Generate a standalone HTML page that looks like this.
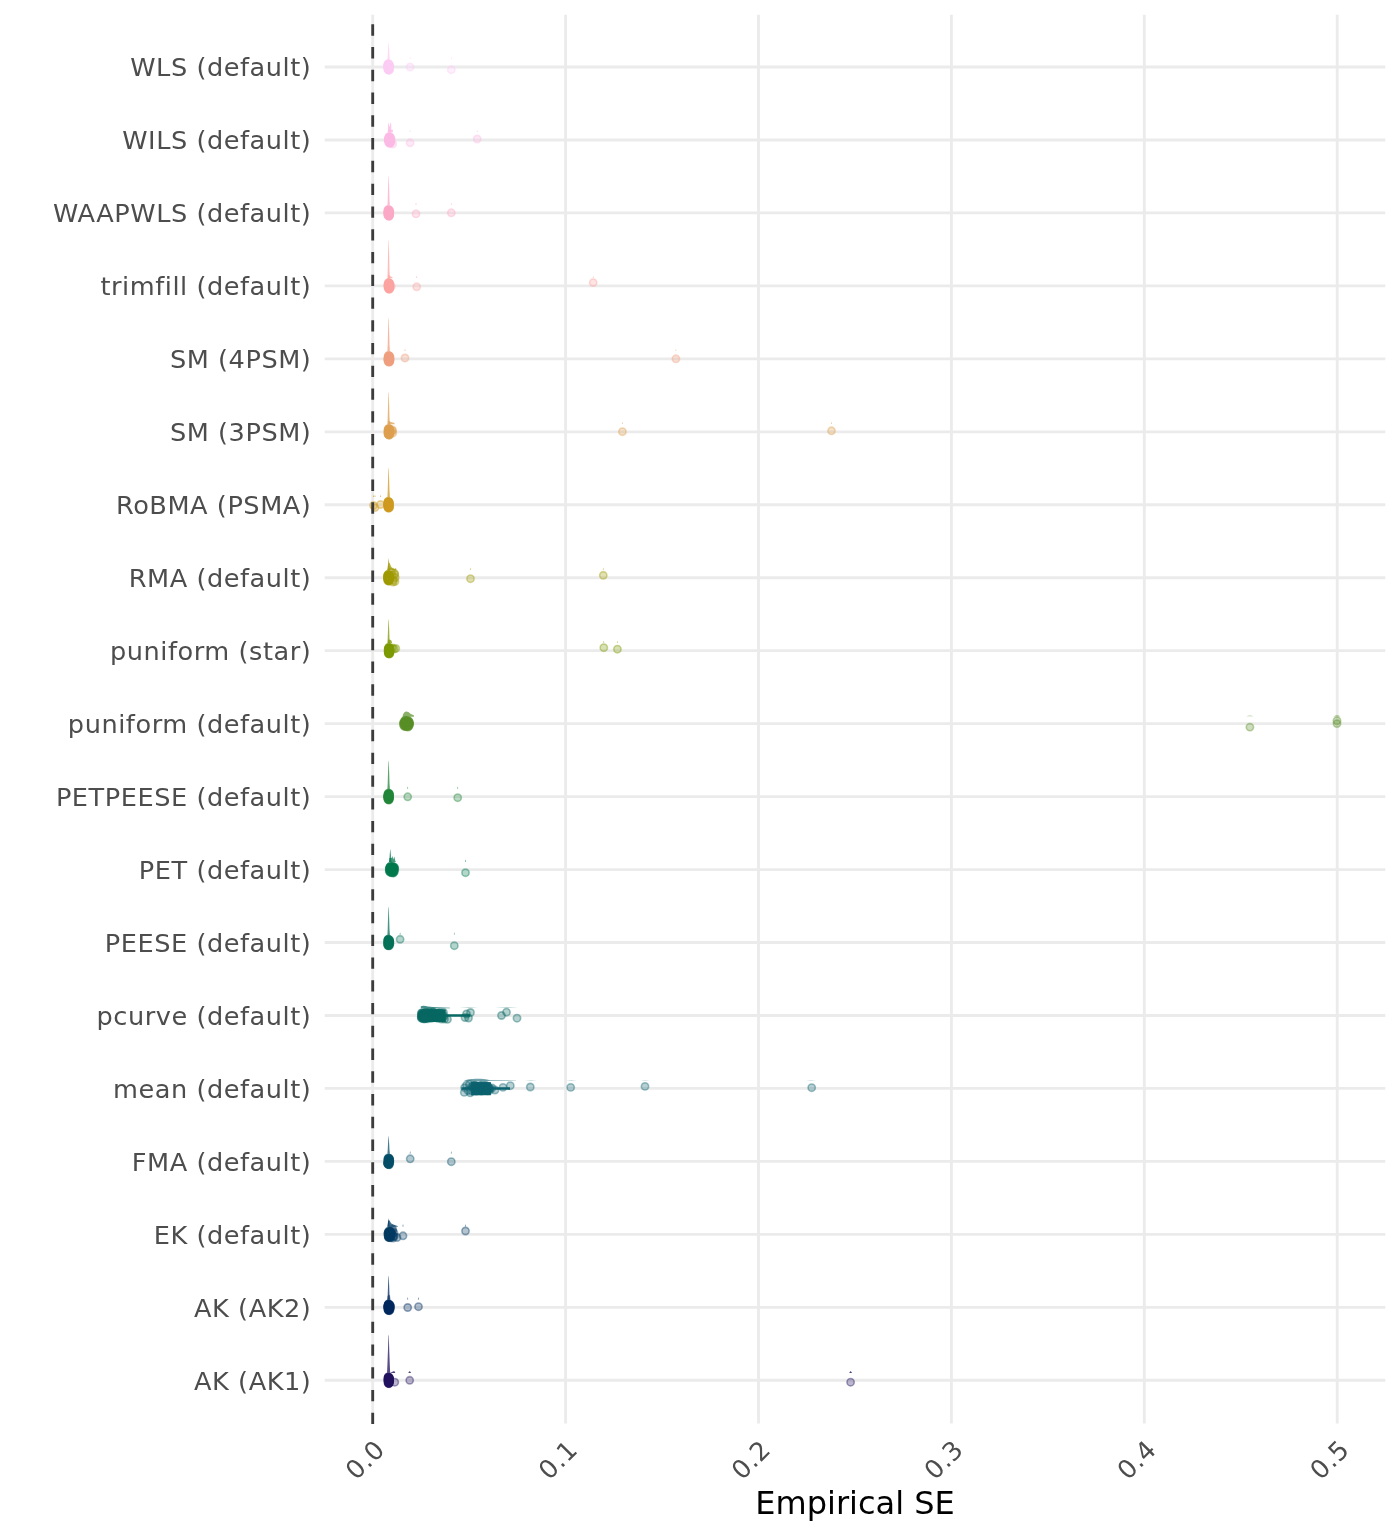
<!DOCTYPE html>
<html lang="en"><head><meta charset="utf-8"><title>Empirical SE</title>
<style>html,body{margin:0;padding:0;background:#fff}svg{display:block}text{font-family:"DejaVu Sans","Liberation Sans",sans-serif}</style></head><body>
<svg width="1400" height="1536" viewBox="0 0 1400 1536">
<rect width="1400" height="1536" fill="#fff"/>
<g stroke="#EBEBEB" stroke-width="2.85" fill="none">
<line x1="324.7" x2="1385.3" y1="67.00" y2="67.00"/>
<line x1="324.7" x2="1385.3" y1="139.96" y2="139.96"/>
<line x1="324.7" x2="1385.3" y1="212.92" y2="212.92"/>
<line x1="324.7" x2="1385.3" y1="285.88" y2="285.88"/>
<line x1="324.7" x2="1385.3" y1="358.84" y2="358.84"/>
<line x1="324.7" x2="1385.3" y1="431.80" y2="431.80"/>
<line x1="324.7" x2="1385.3" y1="504.76" y2="504.76"/>
<line x1="324.7" x2="1385.3" y1="577.72" y2="577.72"/>
<line x1="324.7" x2="1385.3" y1="650.68" y2="650.68"/>
<line x1="324.7" x2="1385.3" y1="723.64" y2="723.64"/>
<line x1="324.7" x2="1385.3" y1="796.60" y2="796.60"/>
<line x1="324.7" x2="1385.3" y1="869.56" y2="869.56"/>
<line x1="324.7" x2="1385.3" y1="942.52" y2="942.52"/>
<line x1="324.7" x2="1385.3" y1="1015.48" y2="1015.48"/>
<line x1="324.7" x2="1385.3" y1="1088.44" y2="1088.44"/>
<line x1="324.7" x2="1385.3" y1="1161.40" y2="1161.40"/>
<line x1="324.7" x2="1385.3" y1="1234.36" y2="1234.36"/>
<line x1="324.7" x2="1385.3" y1="1307.32" y2="1307.32"/>
<line x1="324.7" x2="1385.3" y1="1380.28" y2="1380.28"/>
<line x1="372.70" x2="372.70" y1="14.67" y2="1423.6"/>
<line x1="565.60" x2="565.60" y1="14.67" y2="1423.6"/>
<line x1="758.50" x2="758.50" y1="14.67" y2="1423.6"/>
<line x1="951.40" x2="951.40" y1="14.67" y2="1423.6"/>
<line x1="1144.30" x2="1144.30" y1="14.67" y2="1423.6"/>
<line x1="1337.20" x2="1337.20" y1="14.67" y2="1423.6"/>
</g>
<g id="row0">
<polygon points="387.4,59.4 387.7,55.9 388.0,49.8 388.4,43.5 388.6,42.0 388.8,43.5 389.2,49.8 389.5,55.9 389.9,59.4" fill="#FDCDF4" fill-opacity="0.75"/>
<g fill="#FDCDF4" fill-opacity="0.3" stroke="#FDCDF4" stroke-opacity="0.4" stroke-width="1.6">
<circle cx="387.9" cy="64.8" r="3.65"/>
<circle cx="388.5" cy="65.4" r="3.65"/>
<circle cx="389.2" cy="70.4" r="3.65"/>
<circle cx="387.9" cy="64.5" r="3.65"/>
<circle cx="388.1" cy="64.1" r="3.65"/>
<circle cx="389.5" cy="64.4" r="3.65"/>
<circle cx="387.6" cy="66.6" r="3.65"/>
<circle cx="389.4" cy="65.6" r="3.65"/>
<circle cx="388.6" cy="69.2" r="3.65"/>
<circle cx="388.1" cy="63.6" r="3.65"/>
<circle cx="387.6" cy="68.1" r="3.65"/>
<circle cx="388.2" cy="67.1" r="3.65"/>
<circle cx="388.9" cy="68.0" r="3.65"/>
<circle cx="387.9" cy="69.6" r="3.65"/>
<circle cx="388.8" cy="69.5" r="3.65"/>
<circle cx="389.0" cy="66.0" r="3.65"/>
<circle cx="389.1" cy="69.9" r="3.65"/>
<circle cx="387.9" cy="65.7" r="3.65"/>
<circle cx="389.8" cy="67.4" r="3.65"/>
<circle cx="389.8" cy="65.9" r="3.65"/>
<circle cx="388.5" cy="66.5" r="3.65"/>
<circle cx="387.9" cy="65.3" r="3.65"/>
<circle cx="389.5" cy="66.9" r="3.65"/>
<circle cx="389.4" cy="67.7" r="3.65"/>
<circle cx="389.7" cy="68.9" r="3.65"/>
<circle cx="388.4" cy="69.8" r="3.65"/>
<circle cx="389.7" cy="66.2" r="3.65"/>
<circle cx="387.9" cy="67.2" r="3.65"/>
<circle cx="388.9" cy="63.9" r="3.65"/>
<circle cx="387.8" cy="68.7" r="3.65"/>
<circle cx="388.3" cy="63.8" r="3.65"/>
<circle cx="389.0" cy="69.0" r="3.65"/>
<circle cx="388.4" cy="70.2" r="3.65"/>
<circle cx="388.6" cy="65.0" r="3.65"/>
<circle cx="389.0" cy="70.1" r="3.65"/>
<circle cx="387.7" cy="65.1" r="3.65"/>
<circle cx="388.3" cy="67.5" r="3.65"/>
<circle cx="388.8" cy="68.4" r="3.65"/>
<circle cx="388.7" cy="64.7" r="3.65"/>
<circle cx="388.8" cy="64.2" r="3.65"/>
<circle cx="388.4" cy="69.3" r="3.65"/>
<circle cx="388.9" cy="66.3" r="3.65"/>
<circle cx="388.0" cy="67.8" r="3.65"/>
<circle cx="387.7" cy="66.8" r="3.65"/>
<circle cx="388.4" cy="68.3" r="3.65"/>
<circle cx="387.8" cy="68.6" r="3.65"/>
<circle cx="410.1" cy="67.0" r="3.65"/>
<circle cx="451.3" cy="69.7" r="3.65"/>
</g>
<polygon points="409.6,59.1 410.1,56.7 410.7,59.1" fill="#FDCDF4" fill-opacity="0.6"/>
<polygon points="450.8,59.1 451.3,56.7 451.9,59.1" fill="#FDCDF4" fill-opacity="0.6"/>
</g>
<g id="row1">
<polygon points="387.9,132.35999999999999 388.0,124.35999999999999 388.3,122.3 389.4,127 390.7,122 391.2,124.35999999999999 391.4,132.35999999999999" fill="#FDBBE6" fill-opacity="0.8"/>
<polygon points="387.8,132.35999999999999 388,129.85999999999999 393,129.85999999999999 393,132.35999999999999" fill="#FDBBE6" fill-opacity="0.75"/>
<g fill="#FDBBE6" fill-opacity="0.3" stroke="#FDBBE6" stroke-opacity="0.4" stroke-width="1.6">
<circle cx="389.6" cy="143.1" r="3.65"/>
<circle cx="390.3" cy="143.4" r="3.65"/>
<circle cx="389.4" cy="143.2" r="3.65"/>
<circle cx="390.5" cy="142.2" r="3.65"/>
<circle cx="390.8" cy="141.8" r="3.65"/>
<circle cx="390.5" cy="141.4" r="3.65"/>
<circle cx="390.1" cy="139.1" r="3.65"/>
<circle cx="389.0" cy="140.5" r="3.65"/>
<circle cx="390.6" cy="137.3" r="3.65"/>
<circle cx="390.5" cy="140.2" r="3.65"/>
<circle cx="388.3" cy="141.1" r="3.65"/>
<circle cx="388.6" cy="141.2" r="3.65"/>
<circle cx="391.0" cy="140.3" r="3.65"/>
<circle cx="390.9" cy="139.0" r="3.65"/>
<circle cx="389.4" cy="142.9" r="3.65"/>
<circle cx="389.7" cy="138.7" r="3.65"/>
<circle cx="389.4" cy="142.8" r="3.65"/>
<circle cx="389.3" cy="139.3" r="3.65"/>
<circle cx="390.0" cy="142.5" r="3.65"/>
<circle cx="390.9" cy="138.8" r="3.65"/>
<circle cx="390.0" cy="139.9" r="3.65"/>
<circle cx="389.9" cy="140.9" r="3.65"/>
<circle cx="389.0" cy="138.2" r="3.65"/>
<circle cx="389.6" cy="137.8" r="3.65"/>
<circle cx="388.2" cy="139.6" r="3.65"/>
<circle cx="389.2" cy="137.2" r="3.65"/>
<circle cx="388.7" cy="138.4" r="3.65"/>
<circle cx="388.9" cy="139.4" r="3.65"/>
<circle cx="390.8" cy="141.5" r="3.65"/>
<circle cx="388.6" cy="140.6" r="3.65"/>
<circle cx="389.6" cy="136.9" r="3.65"/>
<circle cx="389.8" cy="136.7" r="3.65"/>
<circle cx="388.2" cy="140.0" r="3.65"/>
<circle cx="388.6" cy="142.6" r="3.65"/>
<circle cx="390.0" cy="141.7" r="3.65"/>
<circle cx="388.8" cy="137.9" r="3.65"/>
<circle cx="389.5" cy="142.0" r="3.65"/>
<circle cx="388.9" cy="136.6" r="3.65"/>
<circle cx="389.4" cy="137.5" r="3.65"/>
<circle cx="389.1" cy="137.0" r="3.65"/>
<circle cx="390.6" cy="142.3" r="3.65"/>
<circle cx="388.6" cy="139.7" r="3.65"/>
<circle cx="390.5" cy="137.6" r="3.65"/>
<circle cx="388.4" cy="138.1" r="3.65"/>
<circle cx="389.7" cy="140.8" r="3.65"/>
<circle cx="389.4" cy="138.5" r="3.65"/>
<circle cx="392.7" cy="144.0" r="3.65"/>
<circle cx="410.1" cy="142.8" r="3.65"/>
<circle cx="477.2" cy="139.0" r="3.65"/>
</g>
<polygon points="409.6,132.1 410.1,129.7 410.7,132.1" fill="#FDBBE6" fill-opacity="0.6"/>
<polygon points="476.6,132.1 477.2,129.7 477.8,132.1" fill="#FDBBE6" fill-opacity="0.6"/>
</g>
<g id="row2">
<polygon points="387.4,205.3 387.7,199.4 388.0,188.9 388.4,177.0 388.6,175.5 388.8,177.0 389.2,188.9 389.5,199.4 389.9,205.3" fill="#FDA9C8" fill-opacity="0.75"/>
<g fill="#FDA9C8" fill-opacity="0.3" stroke="#FDA9C8" stroke-opacity="0.4" stroke-width="1.6">
<circle cx="388.1" cy="210.9" r="3.65"/>
<circle cx="388.7" cy="210.0" r="3.65"/>
<circle cx="389.7" cy="211.9" r="3.65"/>
<circle cx="388.2" cy="213.4" r="3.65"/>
<circle cx="389.6" cy="214.5" r="3.65"/>
<circle cx="388.4" cy="211.5" r="3.65"/>
<circle cx="389.1" cy="216.2" r="3.65"/>
<circle cx="389.0" cy="210.4" r="3.65"/>
<circle cx="388.1" cy="209.8" r="3.65"/>
<circle cx="388.5" cy="210.7" r="3.65"/>
<circle cx="388.8" cy="209.7" r="3.65"/>
<circle cx="389.6" cy="214.2" r="3.65"/>
<circle cx="388.2" cy="215.3" r="3.65"/>
<circle cx="389.2" cy="216.3" r="3.65"/>
<circle cx="388.9" cy="216.0" r="3.65"/>
<circle cx="389.7" cy="214.8" r="3.65"/>
<circle cx="388.9" cy="215.4" r="3.65"/>
<circle cx="389.5" cy="212.1" r="3.65"/>
<circle cx="388.4" cy="213.0" r="3.65"/>
<circle cx="387.9" cy="215.6" r="3.65"/>
<circle cx="389.8" cy="211.8" r="3.65"/>
<circle cx="388.7" cy="212.8" r="3.65"/>
<circle cx="389.4" cy="212.4" r="3.65"/>
<circle cx="389.1" cy="213.8" r="3.65"/>
<circle cx="387.6" cy="212.5" r="3.65"/>
<circle cx="388.4" cy="214.7" r="3.65"/>
<circle cx="388.1" cy="211.6" r="3.65"/>
<circle cx="389.4" cy="212.2" r="3.65"/>
<circle cx="389.2" cy="215.7" r="3.65"/>
<circle cx="388.1" cy="209.5" r="3.65"/>
<circle cx="389.4" cy="210.1" r="3.65"/>
<circle cx="389.7" cy="214.4" r="3.65"/>
<circle cx="387.7" cy="211.0" r="3.65"/>
<circle cx="388.1" cy="215.1" r="3.65"/>
<circle cx="388.2" cy="215.0" r="3.65"/>
<circle cx="389.7" cy="213.9" r="3.65"/>
<circle cx="389.8" cy="213.3" r="3.65"/>
<circle cx="389.5" cy="210.3" r="3.65"/>
<circle cx="388.1" cy="212.7" r="3.65"/>
<circle cx="388.2" cy="213.6" r="3.65"/>
<circle cx="388.8" cy="211.2" r="3.65"/>
<circle cx="387.6" cy="214.1" r="3.65"/>
<circle cx="389.3" cy="211.3" r="3.65"/>
<circle cx="387.7" cy="213.1" r="3.65"/>
<circle cx="388.3" cy="210.6" r="3.65"/>
<circle cx="388.7" cy="215.9" r="3.65"/>
<circle cx="416.0" cy="213.8" r="3.65"/>
<circle cx="451.3" cy="212.8" r="3.65"/>
</g>
<polygon points="415.4,205.0 416.0,202.6 416.6,205.0" fill="#FDA9C8" fill-opacity="0.6"/>
<polygon points="450.8,205.0 451.3,202.6 451.9,205.0" fill="#FDA9C8" fill-opacity="0.6"/>
</g>
<g id="row3">
<polygon points="387.4,278.3 387.7,270.6 388.0,257.2 388.4,241.5 388.6,240.0 388.8,241.5 389.2,257.2 389.5,270.6 389.9,278.3" fill="#FDA5A3" fill-opacity="0.75"/>
<polygon points="388,278.28 388.5,274.78 390.5,276.28 392.5,277.28 392.5,278.28" fill="#FDA5A3" fill-opacity="0.75"/>
<g fill="#FDA5A3" fill-opacity="0.3" stroke="#FDA5A3" stroke-opacity="0.4" stroke-width="1.6">
<circle cx="389.3" cy="288.8" r="3.65"/>
<circle cx="387.9" cy="287.0" r="3.65"/>
<circle cx="388.4" cy="282.5" r="3.65"/>
<circle cx="389.8" cy="283.2" r="3.65"/>
<circle cx="388.3" cy="285.2" r="3.65"/>
<circle cx="389.8" cy="288.1" r="3.65"/>
<circle cx="388.9" cy="285.0" r="3.65"/>
<circle cx="388.2" cy="288.5" r="3.65"/>
<circle cx="388.0" cy="284.0" r="3.65"/>
<circle cx="389.1" cy="286.1" r="3.65"/>
<circle cx="388.2" cy="286.9" r="3.65"/>
<circle cx="388.5" cy="287.2" r="3.65"/>
<circle cx="389.0" cy="287.6" r="3.65"/>
<circle cx="388.7" cy="282.6" r="3.65"/>
<circle cx="389.1" cy="286.6" r="3.65"/>
<circle cx="389.5" cy="287.9" r="3.65"/>
<circle cx="389.1" cy="284.6" r="3.65"/>
<circle cx="387.9" cy="285.4" r="3.65"/>
<circle cx="388.9" cy="288.2" r="3.65"/>
<circle cx="389.5" cy="286.0" r="3.65"/>
<circle cx="388.8" cy="284.1" r="3.65"/>
<circle cx="388.9" cy="289.0" r="3.65"/>
<circle cx="388.9" cy="285.8" r="3.65"/>
<circle cx="388.5" cy="287.3" r="3.65"/>
<circle cx="388.7" cy="282.9" r="3.65"/>
<circle cx="389.0" cy="288.7" r="3.65"/>
<circle cx="389.2" cy="283.8" r="3.65"/>
<circle cx="388.3" cy="285.7" r="3.65"/>
<circle cx="389.7" cy="283.4" r="3.65"/>
<circle cx="389.1" cy="282.8" r="3.65"/>
<circle cx="389.0" cy="284.4" r="3.65"/>
<circle cx="389.6" cy="289.3" r="3.65"/>
<circle cx="388.9" cy="283.1" r="3.65"/>
<circle cx="387.9" cy="285.5" r="3.65"/>
<circle cx="389.2" cy="288.4" r="3.65"/>
<circle cx="390.1" cy="286.3" r="3.65"/>
<circle cx="388.7" cy="283.5" r="3.65"/>
<circle cx="389.0" cy="286.4" r="3.65"/>
<circle cx="388.9" cy="283.7" r="3.65"/>
<circle cx="389.6" cy="286.7" r="3.65"/>
<circle cx="389.8" cy="284.3" r="3.65"/>
<circle cx="390.0" cy="287.8" r="3.65"/>
<circle cx="388.0" cy="284.9" r="3.65"/>
<circle cx="389.5" cy="287.5" r="3.65"/>
<circle cx="389.0" cy="289.1" r="3.65"/>
<circle cx="390.1" cy="284.7" r="3.65"/>
<circle cx="391.2" cy="286.5" r="3.65"/>
<circle cx="416.7" cy="286.8" r="3.65"/>
<circle cx="593.2" cy="282.6" r="3.65"/>
</g>
<polygon points="416.1,278.0 416.7,275.6 417.2,278.0" fill="#FDA5A3" fill-opacity="0.6"/>
<polygon points="592.7,278.0 593.2,275.6 593.8,278.0" fill="#FDA5A3" fill-opacity="0.6"/>
</g>
<g id="row4">
<polygon points="387.4,351.2 387.7,344.5 388.0,332.7 388.4,319.0 388.6,317.5 388.8,319.0 389.2,332.7 389.5,344.5 389.9,351.2" fill="#F0A080" fill-opacity="0.75"/>
<g fill="#F0A080" fill-opacity="0.3" stroke="#F0A080" stroke-opacity="0.4" stroke-width="1.6">
<circle cx="389.8" cy="356.2" r="3.65"/>
<circle cx="388.2" cy="358.9" r="3.65"/>
<circle cx="389.6" cy="360.6" r="3.65"/>
<circle cx="388.2" cy="356.8" r="3.65"/>
<circle cx="389.7" cy="360.9" r="3.65"/>
<circle cx="388.4" cy="355.7" r="3.65"/>
<circle cx="388.9" cy="356.0" r="3.65"/>
<circle cx="389.4" cy="359.8" r="3.65"/>
<circle cx="389.4" cy="359.4" r="3.65"/>
<circle cx="389.7" cy="358.6" r="3.65"/>
<circle cx="388.9" cy="361.3" r="3.65"/>
<circle cx="387.9" cy="358.5" r="3.65"/>
<circle cx="388.2" cy="361.0" r="3.65"/>
<circle cx="390.0" cy="360.7" r="3.65"/>
<circle cx="388.7" cy="361.9" r="3.65"/>
<circle cx="389.1" cy="361.6" r="3.65"/>
<circle cx="388.5" cy="357.6" r="3.65"/>
<circle cx="388.5" cy="362.1" r="3.65"/>
<circle cx="389.6" cy="362.2" r="3.65"/>
<circle cx="388.5" cy="358.8" r="3.65"/>
<circle cx="388.7" cy="356.3" r="3.65"/>
<circle cx="388.5" cy="358.0" r="3.65"/>
<circle cx="389.6" cy="361.8" r="3.65"/>
<circle cx="389.9" cy="359.1" r="3.65"/>
<circle cx="388.1" cy="359.5" r="3.65"/>
<circle cx="389.3" cy="355.6" r="3.65"/>
<circle cx="387.9" cy="360.0" r="3.65"/>
<circle cx="388.4" cy="355.4" r="3.65"/>
<circle cx="390.1" cy="359.2" r="3.65"/>
<circle cx="388.1" cy="360.1" r="3.65"/>
<circle cx="389.0" cy="356.6" r="3.65"/>
<circle cx="388.2" cy="361.5" r="3.65"/>
<circle cx="389.9" cy="360.3" r="3.65"/>
<circle cx="388.0" cy="359.7" r="3.65"/>
<circle cx="388.2" cy="358.2" r="3.65"/>
<circle cx="388.2" cy="357.4" r="3.65"/>
<circle cx="389.3" cy="360.4" r="3.65"/>
<circle cx="389.6" cy="361.2" r="3.65"/>
<circle cx="388.8" cy="358.3" r="3.65"/>
<circle cx="389.9" cy="357.3" r="3.65"/>
<circle cx="389.6" cy="357.1" r="3.65"/>
<circle cx="389.1" cy="355.9" r="3.65"/>
<circle cx="389.6" cy="357.9" r="3.65"/>
<circle cx="388.0" cy="357.0" r="3.65"/>
<circle cx="389.2" cy="356.5" r="3.65"/>
<circle cx="390.1" cy="357.7" r="3.65"/>
<circle cx="405.0" cy="358.0" r="3.65"/>
<circle cx="675.9" cy="358.8" r="3.65"/>
</g>
<polygon points="404.4,350.9 405.0,348.5 405.6,350.9" fill="#F0A080" fill-opacity="0.6"/>
<polygon points="675.4,350.9 675.9,348.5 676.4,350.9" fill="#F0A080" fill-opacity="0.6"/>
</g>
<g id="row5">
<polygon points="387.4,424.2 387.7,417.8 388.0,406.5 388.4,393.5 388.6,392.0 388.8,393.5 389.2,406.5 389.5,417.8 389.9,424.2" fill="#DFA050" fill-opacity="0.75"/>
<polygon points="388,424.19999999999993 388.5,420.69999999999993 391,421.99999999999994 394.5,422.99999999999994 394.5,424.19999999999993" fill="#DFA050" fill-opacity="0.75"/>
<g fill="#DFA050" fill-opacity="0.3" stroke="#DFA050" stroke-opacity="0.4" stroke-width="1.6">
<circle cx="388.3" cy="431.3" r="3.65"/>
<circle cx="389.8" cy="429.2" r="3.65"/>
<circle cx="388.7" cy="432.6" r="3.65"/>
<circle cx="388.4" cy="429.3" r="3.65"/>
<circle cx="389.0" cy="435.0" r="3.65"/>
<circle cx="390.0" cy="433.7" r="3.65"/>
<circle cx="389.4" cy="430.5" r="3.65"/>
<circle cx="388.5" cy="430.8" r="3.65"/>
<circle cx="390.1" cy="430.7" r="3.65"/>
<circle cx="388.6" cy="431.0" r="3.65"/>
<circle cx="388.0" cy="429.9" r="3.65"/>
<circle cx="390.0" cy="431.9" r="3.65"/>
<circle cx="388.4" cy="433.4" r="3.65"/>
<circle cx="389.1" cy="434.9" r="3.65"/>
<circle cx="389.8" cy="430.4" r="3.65"/>
<circle cx="389.7" cy="430.2" r="3.65"/>
<circle cx="388.9" cy="428.9" r="3.65"/>
<circle cx="388.2" cy="430.1" r="3.65"/>
<circle cx="388.8" cy="429.0" r="3.65"/>
<circle cx="388.7" cy="434.6" r="3.65"/>
<circle cx="388.4" cy="428.4" r="3.65"/>
<circle cx="388.3" cy="434.0" r="3.65"/>
<circle cx="388.2" cy="429.5" r="3.65"/>
<circle cx="389.6" cy="435.2" r="3.65"/>
<circle cx="387.9" cy="432.9" r="3.65"/>
<circle cx="387.9" cy="432.8" r="3.65"/>
<circle cx="390.0" cy="431.7" r="3.65"/>
<circle cx="390.1" cy="432.2" r="3.65"/>
<circle cx="388.2" cy="434.3" r="3.65"/>
<circle cx="388.5" cy="431.6" r="3.65"/>
<circle cx="390.0" cy="432.3" r="3.65"/>
<circle cx="389.3" cy="428.6" r="3.65"/>
<circle cx="389.0" cy="433.5" r="3.65"/>
<circle cx="389.4" cy="429.6" r="3.65"/>
<circle cx="388.6" cy="433.8" r="3.65"/>
<circle cx="388.6" cy="432.5" r="3.65"/>
<circle cx="389.0" cy="433.2" r="3.65"/>
<circle cx="389.2" cy="428.7" r="3.65"/>
<circle cx="388.2" cy="434.4" r="3.65"/>
<circle cx="388.9" cy="431.1" r="3.65"/>
<circle cx="388.5" cy="429.8" r="3.65"/>
<circle cx="388.9" cy="433.1" r="3.65"/>
<circle cx="387.9" cy="431.4" r="3.65"/>
<circle cx="389.1" cy="432.0" r="3.65"/>
<circle cx="388.8" cy="434.1" r="3.65"/>
<circle cx="388.6" cy="434.7" r="3.65"/>
<circle cx="392.3" cy="431.0" r="3.65"/>
<circle cx="392.8" cy="433.0" r="3.65"/>
<circle cx="392.5" cy="430.0" r="3.65"/>
<circle cx="622.4" cy="431.7" r="3.65"/>
<circle cx="831.5" cy="430.8" r="3.65"/>
</g>
<polygon points="621.9,423.9 622.4,421.5 622.9,423.9" fill="#DFA050" fill-opacity="0.6"/>
<polygon points="831.0,423.9 831.5,421.5 832.0,423.9" fill="#DFA050" fill-opacity="0.6"/>
</g>
<g id="row6">
<polygon points="387.4,497.2 387.7,491.2 388.0,480.8 388.4,469.0 388.6,467.5 388.8,469.0 389.2,480.8 389.5,491.2 389.9,497.2" fill="#CF9A20" fill-opacity="0.75"/>
<g fill="#CF9A20" fill-opacity="0.3" stroke="#CF9A20" stroke-opacity="0.4" stroke-width="1.6">
<circle cx="387.9" cy="504.1" r="3.65"/>
<circle cx="388.3" cy="501.8" r="3.65"/>
<circle cx="388.3" cy="507.9" r="3.65"/>
<circle cx="388.9" cy="501.7" r="3.65"/>
<circle cx="388.5" cy="507.3" r="3.65"/>
<circle cx="388.1" cy="504.2" r="3.65"/>
<circle cx="389.3" cy="506.5" r="3.65"/>
<circle cx="389.5" cy="506.6" r="3.65"/>
<circle cx="389.0" cy="502.3" r="3.65"/>
<circle cx="387.7" cy="502.9" r="3.65"/>
<circle cx="387.9" cy="507.4" r="3.65"/>
<circle cx="387.7" cy="505.0" r="3.65"/>
<circle cx="388.7" cy="504.7" r="3.65"/>
<circle cx="388.1" cy="501.5" r="3.65"/>
<circle cx="389.6" cy="505.1" r="3.65"/>
<circle cx="387.6" cy="504.4" r="3.65"/>
<circle cx="388.4" cy="503.0" r="3.65"/>
<circle cx="389.1" cy="508.2" r="3.65"/>
<circle cx="388.3" cy="508.0" r="3.65"/>
<circle cx="389.3" cy="507.6" r="3.65"/>
<circle cx="389.0" cy="505.4" r="3.65"/>
<circle cx="389.4" cy="506.8" r="3.65"/>
<circle cx="388.2" cy="504.5" r="3.65"/>
<circle cx="388.2" cy="505.7" r="3.65"/>
<circle cx="388.9" cy="505.3" r="3.65"/>
<circle cx="388.5" cy="507.7" r="3.65"/>
<circle cx="388.1" cy="501.4" r="3.65"/>
<circle cx="388.6" cy="503.2" r="3.65"/>
<circle cx="389.6" cy="503.6" r="3.65"/>
<circle cx="387.6" cy="505.9" r="3.65"/>
<circle cx="388.9" cy="505.6" r="3.65"/>
<circle cx="388.5" cy="506.0" r="3.65"/>
<circle cx="389.1" cy="503.5" r="3.65"/>
<circle cx="387.8" cy="507.1" r="3.65"/>
<circle cx="388.1" cy="502.4" r="3.65"/>
<circle cx="387.8" cy="503.9" r="3.65"/>
<circle cx="388.5" cy="506.2" r="3.65"/>
<circle cx="389.0" cy="502.6" r="3.65"/>
<circle cx="387.6" cy="504.8" r="3.65"/>
<circle cx="388.9" cy="503.8" r="3.65"/>
<circle cx="387.9" cy="506.3" r="3.65"/>
<circle cx="389.4" cy="502.7" r="3.65"/>
<circle cx="389.3" cy="502.1" r="3.65"/>
<circle cx="389.3" cy="507.0" r="3.65"/>
<circle cx="388.0" cy="502.0" r="3.65"/>
<circle cx="388.9" cy="503.3" r="3.65"/>
<circle cx="373.5" cy="505.5" r="3.65"/>
<circle cx="375.0" cy="507.6" r="3.65"/>
<circle cx="380.5" cy="504.5" r="3.65"/>
</g>
<polygon points="372.9,496.9 373.5,494.5 374.1,496.9" fill="#CF9A20" fill-opacity="0.6"/>
<polygon points="374.4,496.9 375.0,494.5 375.6,496.9" fill="#CF9A20" fill-opacity="0.6"/>
<polygon points="379.9,496.9 380.5,494.5 381.1,496.9" fill="#CF9A20" fill-opacity="0.6"/>
</g>
<g id="row7">
<polygon points="387.4,570.1 387.7,567.7 388.0,563.5 388.4,559.5 388.6,558.0 388.8,559.5 389.2,563.5 389.5,567.7 389.9,570.1" fill="#A09A05" fill-opacity="0.75"/>
<polygon points="387.4,570.12 388.2,565.12 389.6,562.62 390.6,565.62 392,567.92 394.6,568.92 396,567.92 396.4,570.12" fill="#A09A05" fill-opacity="0.75"/>
<g fill="#A09A05" fill-opacity="0.3" stroke="#A09A05" stroke-opacity="0.4" stroke-width="1.6">
<circle cx="388.4" cy="578.2" r="3.65"/>
<circle cx="387.9" cy="574.8" r="3.65"/>
<circle cx="389.2" cy="577.2" r="3.65"/>
<circle cx="388.5" cy="574.5" r="3.65"/>
<circle cx="387.5" cy="578.9" r="3.65"/>
<circle cx="388.4" cy="580.2" r="3.65"/>
<circle cx="388.4" cy="579.5" r="3.65"/>
<circle cx="389.5" cy="578.7" r="3.65"/>
<circle cx="388.9" cy="580.7" r="3.65"/>
<circle cx="388.9" cy="575.7" r="3.65"/>
<circle cx="389.3" cy="574.9" r="3.65"/>
<circle cx="388.9" cy="580.1" r="3.65"/>
<circle cx="388.7" cy="577.6" r="3.65"/>
<circle cx="387.6" cy="577.9" r="3.65"/>
<circle cx="387.9" cy="579.3" r="3.65"/>
<circle cx="389.8" cy="578.1" r="3.65"/>
<circle cx="387.4" cy="577.3" r="3.65"/>
<circle cx="387.9" cy="577.8" r="3.65"/>
<circle cx="389.3" cy="576.7" r="3.65"/>
<circle cx="388.8" cy="581.0" r="3.65"/>
<circle cx="388.1" cy="579.8" r="3.65"/>
<circle cx="388.5" cy="576.3" r="3.65"/>
<circle cx="388.0" cy="574.3" r="3.65"/>
<circle cx="389.3" cy="575.2" r="3.65"/>
<circle cx="387.5" cy="577.0" r="3.65"/>
<circle cx="389.1" cy="579.9" r="3.65"/>
<circle cx="389.2" cy="581.1" r="3.65"/>
<circle cx="388.2" cy="575.4" r="3.65"/>
<circle cx="387.5" cy="575.8" r="3.65"/>
<circle cx="389.1" cy="574.6" r="3.65"/>
<circle cx="388.4" cy="576.9" r="3.65"/>
<circle cx="387.7" cy="580.4" r="3.65"/>
<circle cx="387.8" cy="576.0" r="3.65"/>
<circle cx="389.5" cy="575.1" r="3.65"/>
<circle cx="389.7" cy="576.6" r="3.65"/>
<circle cx="389.6" cy="576.1" r="3.65"/>
<circle cx="388.0" cy="580.8" r="3.65"/>
<circle cx="387.7" cy="575.5" r="3.65"/>
<circle cx="388.9" cy="578.4" r="3.65"/>
<circle cx="388.6" cy="580.5" r="3.65"/>
<circle cx="389.5" cy="577.5" r="3.65"/>
<circle cx="387.8" cy="578.6" r="3.65"/>
<circle cx="388.2" cy="576.4" r="3.65"/>
<circle cx="389.7" cy="579.6" r="3.65"/>
<circle cx="389.5" cy="579.0" r="3.65"/>
<circle cx="388.7" cy="579.2" r="3.65"/>
<circle cx="392.0" cy="575.0" r="3.65"/>
<circle cx="393.5" cy="580.0" r="3.65"/>
<circle cx="394.5" cy="573.5" r="3.65"/>
<circle cx="395.2" cy="577.5" r="3.65"/>
<circle cx="393.0" cy="582.0" r="3.65"/>
<circle cx="391.5" cy="572.0" r="3.65"/>
<circle cx="395.0" cy="581.5" r="3.65"/>
<circle cx="394.8" cy="574.5" r="3.65"/>
<circle cx="470.5" cy="578.7" r="3.65"/>
<circle cx="603.3" cy="575.3" r="3.65"/>
</g>
<polygon points="469.9,569.8 470.5,567.4 471.1,569.8" fill="#A09A05" fill-opacity="0.6"/>
<polygon points="602.8,569.8 603.3,567.4 603.8,569.8" fill="#A09A05" fill-opacity="0.6"/>
</g>
<g id="row8">
<polygon points="387.4,643.1 387.7,638.3 388.0,629.8 388.4,620.5 388.6,619.0 388.8,620.5 389.2,629.8 389.5,638.3 389.9,643.1" fill="#7E9A05" fill-opacity="0.75"/>
<polygon points="388,643.0799999999999 388.5,639.5799999999999 391,640.0799999999999 392,642.0799999999999 392,643.0799999999999" fill="#7E9A05" fill-opacity="0.75"/>
<g fill="#7E9A05" fill-opacity="0.3" stroke="#7E9A05" stroke-opacity="0.4" stroke-width="1.6">
<circle cx="388.3" cy="650.8" r="3.65"/>
<circle cx="389.9" cy="649.4" r="3.65"/>
<circle cx="389.6" cy="648.6" r="3.65"/>
<circle cx="389.2" cy="649.7" r="3.65"/>
<circle cx="390.0" cy="650.6" r="3.65"/>
<circle cx="389.0" cy="650.0" r="3.65"/>
<circle cx="389.1" cy="649.1" r="3.65"/>
<circle cx="388.8" cy="647.9" r="3.65"/>
<circle cx="388.8" cy="653.5" r="3.65"/>
<circle cx="389.0" cy="647.7" r="3.65"/>
<circle cx="390.1" cy="651.1" r="3.65"/>
<circle cx="388.4" cy="653.3" r="3.65"/>
<circle cx="389.8" cy="648.0" r="3.65"/>
<circle cx="388.3" cy="651.5" r="3.65"/>
<circle cx="388.4" cy="652.0" r="3.65"/>
<circle cx="388.2" cy="648.8" r="3.65"/>
<circle cx="389.1" cy="652.9" r="3.65"/>
<circle cx="389.9" cy="651.4" r="3.65"/>
<circle cx="389.2" cy="652.1" r="3.65"/>
<circle cx="389.9" cy="648.9" r="3.65"/>
<circle cx="389.7" cy="650.9" r="3.65"/>
<circle cx="388.5" cy="648.3" r="3.65"/>
<circle cx="389.0" cy="648.5" r="3.65"/>
<circle cx="389.3" cy="647.6" r="3.65"/>
<circle cx="388.3" cy="649.2" r="3.65"/>
<circle cx="389.5" cy="653.2" r="3.65"/>
<circle cx="388.4" cy="650.5" r="3.65"/>
<circle cx="388.7" cy="653.8" r="3.65"/>
<circle cx="389.8" cy="648.2" r="3.65"/>
<circle cx="388.8" cy="653.9" r="3.65"/>
<circle cx="389.3" cy="652.7" r="3.65"/>
<circle cx="389.7" cy="653.6" r="3.65"/>
<circle cx="389.8" cy="651.2" r="3.65"/>
<circle cx="389.0" cy="647.4" r="3.65"/>
<circle cx="390.0" cy="652.6" r="3.65"/>
<circle cx="389.0" cy="653.0" r="3.65"/>
<circle cx="388.3" cy="652.3" r="3.65"/>
<circle cx="388.1" cy="651.8" r="3.65"/>
<circle cx="390.1" cy="649.5" r="3.65"/>
<circle cx="388.1" cy="650.3" r="3.65"/>
<circle cx="389.0" cy="649.8" r="3.65"/>
<circle cx="389.6" cy="651.7" r="3.65"/>
<circle cx="389.7" cy="650.2" r="3.65"/>
<circle cx="389.5" cy="652.4" r="3.65"/>
<circle cx="389.6" cy="654.1" r="3.65"/>
<circle cx="388.6" cy="647.3" r="3.65"/>
<circle cx="392.5" cy="648.0" r="3.65"/>
<circle cx="394.0" cy="649.0" r="3.65"/>
<circle cx="395.8" cy="648.5" r="3.65"/>
<circle cx="603.8" cy="647.7" r="3.65"/>
<circle cx="617.4" cy="649.2" r="3.65"/>
</g>
<polygon points="603.2,642.8 603.8,640.4 604.3,642.8" fill="#7E9A05" fill-opacity="0.6"/>
<polygon points="616.9,642.8 617.4,640.4 617.9,642.8" fill="#7E9A05" fill-opacity="0.6"/>
</g>
<g id="row9">
<path d="M402.5,716.64 C403.5,710.54 407.5,710.54 410,713.4399999999999 L414,715.4399999999999 L414,716.64 Z" fill="#5A9028" fill-opacity="0.7"/>
<g fill="#5A9028" fill-opacity="0.3" stroke="#5A9028" stroke-opacity="0.4" stroke-width="1.6">
<circle cx="409.0" cy="723.4" r="3.65"/>
<circle cx="403.8" cy="723.0" r="3.65"/>
<circle cx="406.0" cy="726.7" r="3.65"/>
<circle cx="403.8" cy="723.1" r="3.65"/>
<circle cx="406.5" cy="721.3" r="3.65"/>
<circle cx="407.5" cy="724.9" r="3.65"/>
<circle cx="404.3" cy="722.8" r="3.65"/>
<circle cx="408.7" cy="726.1" r="3.65"/>
<circle cx="404.5" cy="722.2" r="3.65"/>
<circle cx="409.3" cy="722.7" r="3.65"/>
<circle cx="409.2" cy="725.5" r="3.65"/>
<circle cx="407.6" cy="720.8" r="3.65"/>
<circle cx="404.9" cy="720.2" r="3.65"/>
<circle cx="405.0" cy="721.6" r="3.65"/>
<circle cx="407.6" cy="726.9" r="3.65"/>
<circle cx="408.0" cy="724.6" r="3.65"/>
<circle cx="407.4" cy="721.9" r="3.65"/>
<circle cx="403.8" cy="721.8" r="3.65"/>
<circle cx="408.9" cy="723.6" r="3.65"/>
<circle cx="408.7" cy="721.1" r="3.65"/>
<circle cx="404.9" cy="721.4" r="3.65"/>
<circle cx="405.8" cy="726.0" r="3.65"/>
<circle cx="405.5" cy="720.5" r="3.65"/>
<circle cx="405.9" cy="722.4" r="3.65"/>
<circle cx="405.8" cy="725.1" r="3.65"/>
<circle cx="408.1" cy="727.0" r="3.65"/>
<circle cx="405.8" cy="725.2" r="3.65"/>
<circle cx="405.4" cy="725.8" r="3.65"/>
<circle cx="409.6" cy="723.9" r="3.65"/>
<circle cx="403.9" cy="725.7" r="3.65"/>
<circle cx="409.6" cy="724.0" r="3.65"/>
<circle cx="409.5" cy="722.5" r="3.65"/>
<circle cx="405.5" cy="724.2" r="3.65"/>
<circle cx="407.6" cy="720.4" r="3.65"/>
<circle cx="405.3" cy="726.6" r="3.65"/>
<circle cx="404.2" cy="726.3" r="3.65"/>
<circle cx="403.4" cy="723.3" r="3.65"/>
<circle cx="408.5" cy="726.4" r="3.65"/>
<circle cx="409.1" cy="724.5" r="3.65"/>
<circle cx="405.6" cy="725.4" r="3.65"/>
<circle cx="407.9" cy="723.7" r="3.65"/>
<circle cx="409.0" cy="722.1" r="3.65"/>
<circle cx="403.5" cy="724.8" r="3.65"/>
<circle cx="405.4" cy="720.7" r="3.65"/>
<circle cx="408.8" cy="721.0" r="3.65"/>
<circle cx="404.6" cy="724.3" r="3.65"/>
<circle cx="1249.9" cy="727.1" r="3.65"/>
<circle cx="1337.0" cy="720.7" r="3.65"/>
<circle cx="1337.0" cy="723.6" r="3.65"/>
</g>
<path d="M1246.3,716.2 Q1249.9,715.0 1253.5,716.2 Z" fill="#5A9028" fill-opacity="0.5"/>
<path d="M1333.4,716.2 Q1337.0,715.0 1340.6,716.2 Z" fill="#5A9028" fill-opacity="0.5"/>
<path d="M1333.4,716.2 Q1337.0,715.0 1340.6,716.2 Z" fill="#5A9028" fill-opacity="0.5"/>
</g>
<g id="row10">
<polygon points="387.4,789.0 387.7,783.3 388.0,773.3 388.4,762.0 388.6,760.5 388.8,762.0 389.2,773.3 389.5,783.3 389.9,789.0" fill="#23873A" fill-opacity="0.75"/>
<g fill="#23873A" fill-opacity="0.3" stroke="#23873A" stroke-opacity="0.4" stroke-width="1.6">
<circle cx="387.7" cy="794.7" r="3.65"/>
<circle cx="389.3" cy="794.0" r="3.65"/>
<circle cx="388.6" cy="794.1" r="3.65"/>
<circle cx="387.6" cy="797.7" r="3.65"/>
<circle cx="389.2" cy="795.8" r="3.65"/>
<circle cx="388.8" cy="795.2" r="3.65"/>
<circle cx="389.2" cy="793.5" r="3.65"/>
<circle cx="389.5" cy="798.5" r="3.65"/>
<circle cx="388.5" cy="798.6" r="3.65"/>
<circle cx="388.5" cy="798.3" r="3.65"/>
<circle cx="389.4" cy="797.3" r="3.65"/>
<circle cx="388.1" cy="796.4" r="3.65"/>
<circle cx="389.1" cy="800.0" r="3.65"/>
<circle cx="388.6" cy="798.0" r="3.65"/>
<circle cx="388.0" cy="796.1" r="3.65"/>
<circle cx="389.0" cy="799.1" r="3.65"/>
<circle cx="387.7" cy="796.5" r="3.65"/>
<circle cx="389.6" cy="797.1" r="3.65"/>
<circle cx="388.8" cy="798.8" r="3.65"/>
<circle cx="388.1" cy="793.2" r="3.65"/>
<circle cx="388.7" cy="796.8" r="3.65"/>
<circle cx="389.1" cy="793.4" r="3.65"/>
<circle cx="388.3" cy="795.3" r="3.65"/>
<circle cx="387.8" cy="797.9" r="3.65"/>
<circle cx="388.5" cy="793.7" r="3.65"/>
<circle cx="389.0" cy="798.2" r="3.65"/>
<circle cx="388.1" cy="797.6" r="3.65"/>
<circle cx="388.8" cy="799.4" r="3.65"/>
<circle cx="389.0" cy="799.7" r="3.65"/>
<circle cx="389.3" cy="794.3" r="3.65"/>
<circle cx="388.1" cy="794.4" r="3.65"/>
<circle cx="389.6" cy="797.0" r="3.65"/>
<circle cx="388.3" cy="793.8" r="3.65"/>
<circle cx="387.6" cy="796.2" r="3.65"/>
<circle cx="388.1" cy="799.5" r="3.65"/>
<circle cx="387.8" cy="795.9" r="3.65"/>
<circle cx="389.1" cy="794.6" r="3.65"/>
<circle cx="388.9" cy="798.9" r="3.65"/>
<circle cx="387.9" cy="799.2" r="3.65"/>
<circle cx="389.2" cy="794.9" r="3.65"/>
<circle cx="389.6" cy="795.5" r="3.65"/>
<circle cx="389.6" cy="797.4" r="3.65"/>
<circle cx="389.1" cy="795.0" r="3.65"/>
<circle cx="388.4" cy="799.8" r="3.65"/>
<circle cx="388.3" cy="795.6" r="3.65"/>
<circle cx="387.7" cy="796.7" r="3.65"/>
<circle cx="407.7" cy="796.8" r="3.65"/>
<circle cx="457.7" cy="797.7" r="3.65"/>
</g>
<polygon points="407.1,788.7 407.7,786.3 408.2,788.7" fill="#23873A" fill-opacity="0.6"/>
<polygon points="457.1,788.7 457.7,786.3 458.2,788.7" fill="#23873A" fill-opacity="0.6"/>
</g>
<g id="row11">
<polygon points="389.1,862.0 389.4,859.4 389.7,854.8 390.1,850.5 390.3,849.0 390.5,850.5 390.9,854.8 391.2,859.4 391.6,862.0" fill="#037A4E" fill-opacity="0.75"/>
<polygon points="389,861.9599999999999 389.4,857.9599999999999 391.6,857.9599999999999 392.4,855.9599999999999 393.2,859.4599999999999 394.3,856.4599999999999 395.3,860.9599999999999 396,861.9599999999999" fill="#037A4E" fill-opacity="0.75"/>
<g fill="#037A4E" fill-opacity="0.3" stroke="#037A4E" stroke-opacity="0.4" stroke-width="1.6">
<circle cx="393.3" cy="872.1" r="3.65"/>
<circle cx="389.2" cy="869.2" r="3.65"/>
<circle cx="391.9" cy="869.3" r="3.65"/>
<circle cx="393.2" cy="871.9" r="3.65"/>
<circle cx="389.4" cy="869.0" r="3.65"/>
<circle cx="389.7" cy="868.9" r="3.65"/>
<circle cx="392.2" cy="870.1" r="3.65"/>
<circle cx="392.5" cy="866.3" r="3.65"/>
<circle cx="392.7" cy="868.7" r="3.65"/>
<circle cx="389.3" cy="870.7" r="3.65"/>
<circle cx="393.7" cy="868.3" r="3.65"/>
<circle cx="391.5" cy="869.5" r="3.65"/>
<circle cx="393.4" cy="873.0" r="3.65"/>
<circle cx="389.8" cy="871.8" r="3.65"/>
<circle cx="393.6" cy="868.1" r="3.65"/>
<circle cx="392.8" cy="870.2" r="3.65"/>
<circle cx="389.7" cy="871.1" r="3.65"/>
<circle cx="390.0" cy="867.1" r="3.65"/>
<circle cx="394.7" cy="868.4" r="3.65"/>
<circle cx="394.1" cy="868.0" r="3.65"/>
<circle cx="391.6" cy="872.5" r="3.65"/>
<circle cx="390.3" cy="866.5" r="3.65"/>
<circle cx="392.9" cy="869.8" r="3.65"/>
<circle cx="389.9" cy="872.2" r="3.65"/>
<circle cx="391.4" cy="870.4" r="3.65"/>
<circle cx="393.2" cy="871.3" r="3.65"/>
<circle cx="393.2" cy="867.8" r="3.65"/>
<circle cx="392.8" cy="866.8" r="3.65"/>
<circle cx="391.6" cy="871.0" r="3.65"/>
<circle cx="391.3" cy="868.6" r="3.65"/>
<circle cx="392.9" cy="870.8" r="3.65"/>
<circle cx="391.6" cy="872.4" r="3.65"/>
<circle cx="391.8" cy="872.8" r="3.65"/>
<circle cx="393.5" cy="872.7" r="3.65"/>
<circle cx="394.4" cy="867.5" r="3.65"/>
<circle cx="394.5" cy="871.4" r="3.65"/>
<circle cx="392.5" cy="866.6" r="3.65"/>
<circle cx="390.6" cy="866.2" r="3.65"/>
<circle cx="389.9" cy="867.4" r="3.65"/>
<circle cx="389.5" cy="867.7" r="3.65"/>
<circle cx="390.8" cy="870.5" r="3.65"/>
<circle cx="393.7" cy="869.6" r="3.65"/>
<circle cx="391.6" cy="871.6" r="3.65"/>
<circle cx="394.8" cy="869.9" r="3.65"/>
<circle cx="394.1" cy="866.9" r="3.65"/>
<circle cx="391.3" cy="867.2" r="3.65"/>
<circle cx="465.5" cy="872.7" r="3.65"/>
</g>
<polygon points="464.9,861.7 465.5,859.3 466.1,861.7" fill="#037A4E" fill-opacity="0.6"/>
</g>
<g id="row12">
<polygon points="387.4,934.9 387.7,929.2 388.0,919.2 388.4,907.9 388.6,906.4 388.8,907.9 389.2,919.2 389.5,929.2 389.9,934.9" fill="#07735A" fill-opacity="0.75"/>
<g fill="#07735A" fill-opacity="0.3" stroke="#07735A" stroke-opacity="0.4" stroke-width="1.6">
<circle cx="388.7" cy="943.0" r="3.65"/>
<circle cx="389.8" cy="944.4" r="3.65"/>
<circle cx="388.1" cy="940.0" r="3.65"/>
<circle cx="389.8" cy="943.5" r="3.65"/>
<circle cx="387.9" cy="943.2" r="3.65"/>
<circle cx="388.4" cy="944.9" r="3.65"/>
<circle cx="388.1" cy="939.1" r="3.65"/>
<circle cx="387.6" cy="943.7" r="3.65"/>
<circle cx="388.2" cy="942.4" r="3.65"/>
<circle cx="388.7" cy="945.3" r="3.65"/>
<circle cx="388.3" cy="941.5" r="3.65"/>
<circle cx="389.5" cy="941.1" r="3.65"/>
<circle cx="388.4" cy="941.7" r="3.65"/>
<circle cx="389.7" cy="940.5" r="3.65"/>
<circle cx="388.9" cy="945.5" r="3.65"/>
<circle cx="389.8" cy="941.4" r="3.65"/>
<circle cx="389.3" cy="945.9" r="3.65"/>
<circle cx="387.8" cy="944.7" r="3.65"/>
<circle cx="389.1" cy="941.2" r="3.65"/>
<circle cx="387.5" cy="943.4" r="3.65"/>
<circle cx="387.8" cy="945.2" r="3.65"/>
<circle cx="389.4" cy="944.1" r="3.65"/>
<circle cx="388.0" cy="945.6" r="3.65"/>
<circle cx="389.4" cy="944.3" r="3.65"/>
<circle cx="389.5" cy="942.0" r="3.65"/>
<circle cx="388.0" cy="940.8" r="3.65"/>
<circle cx="388.7" cy="939.4" r="3.65"/>
<circle cx="388.5" cy="944.6" r="3.65"/>
<circle cx="388.1" cy="942.6" r="3.65"/>
<circle cx="389.9" cy="942.9" r="3.65"/>
<circle cx="389.1" cy="942.3" r="3.65"/>
<circle cx="387.6" cy="940.6" r="3.65"/>
<circle cx="388.6" cy="941.8" r="3.65"/>
<circle cx="388.6" cy="943.8" r="3.65"/>
<circle cx="388.5" cy="945.0" r="3.65"/>
<circle cx="389.5" cy="940.9" r="3.65"/>
<circle cx="388.4" cy="940.2" r="3.65"/>
<circle cx="387.9" cy="939.7" r="3.65"/>
<circle cx="388.3" cy="939.3" r="3.65"/>
<circle cx="388.0" cy="940.3" r="3.65"/>
<circle cx="388.4" cy="942.7" r="3.65"/>
<circle cx="388.2" cy="945.8" r="3.65"/>
<circle cx="388.8" cy="939.6" r="3.65"/>
<circle cx="389.6" cy="939.9" r="3.65"/>
<circle cx="389.0" cy="944.0" r="3.65"/>
<circle cx="387.5" cy="942.1" r="3.65"/>
<circle cx="400.1" cy="939.3" r="3.65"/>
<circle cx="454.3" cy="945.7" r="3.65"/>
</g>
<polygon points="399.6,934.6 400.1,932.2 400.7,934.6" fill="#07735A" fill-opacity="0.6"/>
<polygon points="453.8,934.6 454.3,932.2 454.9,934.6" fill="#07735A" fill-opacity="0.6"/>
</g>
<g id="row13">
<path d="M420.8,1008.1799999999998 L420.8,1006.2799999999999 C423,1005.2799999999999 425,1005.6799999999998 428,1006.5799999999999 C434,1007.1799999999998 442,1007.3799999999999 450,1007.7799999999999 L450,1008.1799999999998 Z" fill="#0A6A65" fill-opacity="0.75"/>
<path d="M459.5,1008.0799999999999 Q469,1006.7799999999999 478.5,1008.0799999999999 Z" fill="#0A6A65" fill-opacity="0.5"/>
<path d="M495,1008.0799999999999 Q506,1006.8799999999999 518,1008.0799999999999 Z" fill="#0A6A65" fill-opacity="0.5"/>
<line x1="418" x2="470" y1="1015.4799999999999" y2="1015.4799999999999" stroke="#0A6A65" stroke-width="2.6"/>
<rect x="424" y="1009.4799999999999" width="21.7" height="12.6" fill="#0A6A65"/>
<g fill="#0A6A65" fill-opacity="0.3" stroke="#0A6A65" stroke-opacity="0.4" stroke-width="1.6">
<circle cx="421.3" cy="1016.7" r="3.65"/>
<circle cx="421.3" cy="1018.2" r="3.65"/>
<circle cx="421.4" cy="1013.2" r="3.65"/>
<circle cx="421.5" cy="1017.4" r="3.65"/>
<circle cx="421.6" cy="1012.9" r="3.65"/>
<circle cx="421.8" cy="1015.7" r="3.65"/>
<circle cx="421.9" cy="1016.4" r="3.65"/>
<circle cx="422.1" cy="1014.5" r="3.65"/>
<circle cx="422.2" cy="1018.0" r="3.65"/>
<circle cx="422.4" cy="1015.9" r="3.65"/>
<circle cx="422.6" cy="1016.0" r="3.65"/>
<circle cx="422.8" cy="1018.1" r="3.65"/>
<circle cx="423.0" cy="1012.8" r="3.65"/>
<circle cx="423.2" cy="1018.8" r="3.65"/>
<circle cx="423.5" cy="1016.4" r="3.65"/>
<circle cx="423.7" cy="1014.8" r="3.65"/>
<circle cx="423.9" cy="1017.5" r="3.65"/>
<circle cx="424.2" cy="1013.9" r="3.65"/>
<circle cx="424.5" cy="1018.8" r="3.65"/>
<circle cx="424.7" cy="1016.0" r="3.65"/>
<circle cx="425.0" cy="1014.5" r="3.65"/>
<circle cx="425.3" cy="1017.3" r="3.65"/>
<circle cx="425.6" cy="1015.1" r="3.65"/>
<circle cx="425.9" cy="1013.3" r="3.65"/>
<circle cx="426.2" cy="1017.1" r="3.65"/>
<circle cx="426.5" cy="1012.4" r="3.65"/>
<circle cx="426.8" cy="1017.7" r="3.65"/>
<circle cx="427.1" cy="1013.8" r="3.65"/>
<circle cx="427.4" cy="1016.4" r="3.65"/>
<circle cx="427.7" cy="1018.8" r="3.65"/>
<circle cx="428.1" cy="1016.1" r="3.65"/>
<circle cx="428.4" cy="1016.6" r="3.65"/>
<circle cx="428.8" cy="1014.2" r="3.65"/>
<circle cx="429.1" cy="1012.1" r="3.65"/>
<circle cx="429.5" cy="1012.3" r="3.65"/>
<circle cx="429.8" cy="1013.1" r="3.65"/>
<circle cx="430.2" cy="1016.3" r="3.65"/>
<circle cx="430.6" cy="1015.0" r="3.65"/>
<circle cx="431.0" cy="1015.6" r="3.65"/>
<circle cx="431.3" cy="1018.2" r="3.65"/>
<circle cx="431.7" cy="1013.0" r="3.65"/>
<circle cx="432.1" cy="1013.6" r="3.65"/>
<circle cx="432.5" cy="1016.5" r="3.65"/>
<circle cx="432.9" cy="1012.2" r="3.65"/>
<circle cx="433.3" cy="1012.1" r="3.65"/>
<circle cx="433.8" cy="1014.5" r="3.65"/>
<circle cx="434.2" cy="1012.8" r="3.65"/>
<circle cx="434.6" cy="1014.5" r="3.65"/>
<circle cx="435.0" cy="1013.6" r="3.65"/>
<circle cx="435.5" cy="1016.0" r="3.65"/>
<circle cx="435.9" cy="1016.1" r="3.65"/>
<circle cx="436.3" cy="1013.5" r="3.65"/>
<circle cx="436.8" cy="1016.3" r="3.65"/>
<circle cx="437.2" cy="1015.3" r="3.65"/>
<circle cx="437.7" cy="1013.0" r="3.65"/>
<circle cx="438.1" cy="1018.4" r="3.65"/>
<circle cx="438.6" cy="1013.7" r="3.65"/>
<circle cx="439.1" cy="1013.1" r="3.65"/>
<circle cx="439.5" cy="1012.7" r="3.65"/>
<circle cx="440.0" cy="1016.4" r="3.65"/>
<circle cx="425.7" cy="1012.1" r="3.65"/>
<circle cx="425.2" cy="1012.7" r="3.65"/>
<circle cx="423.3" cy="1013.3" r="3.65"/>
<circle cx="422.6" cy="1013.9" r="3.65"/>
<circle cx="421.4" cy="1014.6" r="3.65"/>
<circle cx="424.5" cy="1015.2" r="3.65"/>
<circle cx="424.1" cy="1015.8" r="3.65"/>
<circle cx="423.1" cy="1016.4" r="3.65"/>
<circle cx="424.5" cy="1017.0" r="3.65"/>
<circle cx="423.5" cy="1017.6" r="3.65"/>
<circle cx="426.0" cy="1018.3" r="3.65"/>
<circle cx="425.0" cy="1018.9" r="3.65"/>
<circle cx="441.0" cy="1013.0" r="3.65"/>
<circle cx="442.5" cy="1017.5" r="3.65"/>
<circle cx="443.5" cy="1012.5" r="3.65"/>
<circle cx="444.0" cy="1016.0" r="3.65"/>
<circle cx="444.5" cy="1019.0" r="3.65"/>
<circle cx="447.5" cy="1019.3" r="3.65"/>
<circle cx="441.5" cy="1019.0" r="3.65"/>
<circle cx="470.5" cy="1012.5" r="3.65"/>
<circle cx="465.0" cy="1017.5" r="3.65"/>
<circle cx="468.5" cy="1018.0" r="3.65"/>
<circle cx="466.5" cy="1014.0" r="3.65"/>
<circle cx="501.5" cy="1015.5" r="3.65"/>
<circle cx="506.5" cy="1012.2" r="3.65"/>
<circle cx="517.0" cy="1018.2" r="3.65"/>
</g>
</g>
<g id="row14">
<path d="M464,1080.9400000000003 C468,1078.3400000000001 482,1078.14 490,1080.14 L516,1080.64 L516,1080.9400000000003 Z" fill="#0E6370" fill-opacity="0.6"/>
<path d="M525,1080.8400000000001 Q531,1079.7400000000002 537,1080.8400000000001 Z" fill="#0E6370" fill-opacity="0.4"/>
<path d="M566,1080.8400000000001 Q571,1079.7400000000002 577,1080.8400000000001 Z" fill="#0E6370" fill-opacity="0.4"/>
<path d="M640,1080.8400000000001 Q645,1079.8400000000001 650,1080.8400000000001 Z" fill="#0E6370" fill-opacity="0.35"/>
<path d="M806,1080.8400000000001 Q811,1079.8400000000001 816,1080.8400000000001 Z" fill="#0E6370" fill-opacity="0.35"/>
<line x1="461.5" x2="510" y1="1088.44" y2="1088.44" stroke="#0E6370" stroke-width="2.6"/>
<rect x="471.1" y="1082.14" width="19.8" height="13.1" fill="#0E6370"/>
<g fill="#0E6370" fill-opacity="0.3" stroke="#0E6370" stroke-opacity="0.4" stroke-width="1.6">
<circle cx="472.0" cy="1086.7" r="3.65"/>
<circle cx="472.4" cy="1091.2" r="3.65"/>
<circle cx="472.8" cy="1085.3" r="3.65"/>
<circle cx="473.3" cy="1088.7" r="3.65"/>
<circle cx="473.7" cy="1087.8" r="3.65"/>
<circle cx="474.1" cy="1086.7" r="3.65"/>
<circle cx="474.5" cy="1085.4" r="3.65"/>
<circle cx="474.9" cy="1090.3" r="3.65"/>
<circle cx="475.3" cy="1085.1" r="3.65"/>
<circle cx="475.8" cy="1088.8" r="3.65"/>
<circle cx="476.2" cy="1091.4" r="3.65"/>
<circle cx="476.6" cy="1086.0" r="3.65"/>
<circle cx="477.0" cy="1086.4" r="3.65"/>
<circle cx="477.4" cy="1089.2" r="3.65"/>
<circle cx="477.9" cy="1088.5" r="3.65"/>
<circle cx="478.3" cy="1089.4" r="3.65"/>
<circle cx="478.7" cy="1090.6" r="3.65"/>
<circle cx="479.1" cy="1086.2" r="3.65"/>
<circle cx="479.5" cy="1087.1" r="3.65"/>
<circle cx="480.0" cy="1087.1" r="3.65"/>
<circle cx="480.4" cy="1085.4" r="3.65"/>
<circle cx="480.8" cy="1091.1" r="3.65"/>
<circle cx="481.2" cy="1090.4" r="3.65"/>
<circle cx="481.6" cy="1089.9" r="3.65"/>
<circle cx="482.0" cy="1085.1" r="3.65"/>
<circle cx="482.5" cy="1090.8" r="3.65"/>
<circle cx="482.9" cy="1090.1" r="3.65"/>
<circle cx="483.3" cy="1088.2" r="3.65"/>
<circle cx="483.7" cy="1090.1" r="3.65"/>
<circle cx="484.1" cy="1088.1" r="3.65"/>
<circle cx="484.6" cy="1086.6" r="3.65"/>
<circle cx="485.0" cy="1085.8" r="3.65"/>
<circle cx="485.4" cy="1086.6" r="3.65"/>
<circle cx="485.8" cy="1085.3" r="3.65"/>
<circle cx="486.2" cy="1087.3" r="3.65"/>
<circle cx="486.7" cy="1090.1" r="3.65"/>
<circle cx="487.1" cy="1089.8" r="3.65"/>
<circle cx="487.5" cy="1090.8" r="3.65"/>
<circle cx="487.9" cy="1089.9" r="3.65"/>
<circle cx="488.3" cy="1086.8" r="3.65"/>
<circle cx="488.7" cy="1088.8" r="3.65"/>
<circle cx="489.2" cy="1088.0" r="3.65"/>
<circle cx="489.6" cy="1090.4" r="3.65"/>
<circle cx="490.0" cy="1088.6" r="3.65"/>
<circle cx="464.6" cy="1087.6" r="3.65"/>
<circle cx="464.3" cy="1092.4" r="3.65"/>
<circle cx="466.5" cy="1085.2" r="3.65"/>
<circle cx="469.4" cy="1084.4" r="3.65"/>
<circle cx="468.0" cy="1090.5" r="3.65"/>
<circle cx="470.2" cy="1092.8" r="3.65"/>
<circle cx="492.0" cy="1088.0" r="3.65"/>
<circle cx="495.0" cy="1090.0" r="3.65"/>
<circle cx="503.0" cy="1087.4" r="3.65"/>
<circle cx="510.3" cy="1085.7" r="3.65"/>
<circle cx="530.3" cy="1087.0" r="3.65"/>
<circle cx="570.7" cy="1087.4" r="3.65"/>
<circle cx="645.0" cy="1086.4" r="3.65"/>
<circle cx="811.7" cy="1087.7" r="3.65"/>
</g>
</g>
<g id="row15">
<polygon points="387.4,1153.8 387.7,1150.2 388.0,1143.9 388.4,1137.3 388.6,1135.8 388.8,1137.3 389.2,1143.9 389.5,1150.2 389.9,1153.8" fill="#07506A" fill-opacity="0.75"/>
<g fill="#07506A" fill-opacity="0.3" stroke="#07506A" stroke-opacity="0.4" stroke-width="1.6">
<circle cx="389.1" cy="1161.3" r="3.65"/>
<circle cx="388.3" cy="1162.1" r="3.65"/>
<circle cx="388.9" cy="1158.2" r="3.65"/>
<circle cx="388.2" cy="1164.6" r="3.65"/>
<circle cx="389.7" cy="1160.9" r="3.65"/>
<circle cx="387.7" cy="1163.0" r="3.65"/>
<circle cx="389.2" cy="1164.8" r="3.65"/>
<circle cx="389.7" cy="1163.3" r="3.65"/>
<circle cx="387.6" cy="1162.5" r="3.65"/>
<circle cx="388.9" cy="1161.9" r="3.65"/>
<circle cx="388.0" cy="1162.8" r="3.65"/>
<circle cx="389.0" cy="1160.4" r="3.65"/>
<circle cx="389.1" cy="1160.6" r="3.65"/>
<circle cx="388.1" cy="1162.2" r="3.65"/>
<circle cx="388.2" cy="1160.1" r="3.65"/>
<circle cx="389.6" cy="1162.7" r="3.65"/>
<circle cx="388.4" cy="1159.7" r="3.65"/>
<circle cx="388.1" cy="1158.0" r="3.65"/>
<circle cx="389.1" cy="1159.2" r="3.65"/>
<circle cx="388.4" cy="1163.4" r="3.65"/>
<circle cx="389.4" cy="1161.2" r="3.65"/>
<circle cx="387.7" cy="1159.5" r="3.65"/>
<circle cx="389.5" cy="1159.4" r="3.65"/>
<circle cx="387.9" cy="1163.9" r="3.65"/>
<circle cx="387.6" cy="1161.0" r="3.65"/>
<circle cx="387.9" cy="1164.0" r="3.65"/>
<circle cx="389.8" cy="1161.8" r="3.65"/>
<circle cx="389.0" cy="1162.4" r="3.65"/>
<circle cx="388.9" cy="1164.2" r="3.65"/>
<circle cx="388.3" cy="1158.5" r="3.65"/>
<circle cx="387.9" cy="1163.7" r="3.65"/>
<circle cx="389.1" cy="1160.7" r="3.65"/>
<circle cx="389.5" cy="1158.8" r="3.65"/>
<circle cx="389.0" cy="1164.5" r="3.65"/>
<circle cx="389.3" cy="1158.3" r="3.65"/>
<circle cx="388.2" cy="1159.1" r="3.65"/>
<circle cx="388.0" cy="1163.6" r="3.65"/>
<circle cx="388.3" cy="1160.0" r="3.65"/>
<circle cx="389.8" cy="1160.3" r="3.65"/>
<circle cx="388.3" cy="1158.9" r="3.65"/>
<circle cx="388.6" cy="1161.6" r="3.65"/>
<circle cx="389.3" cy="1158.6" r="3.65"/>
<circle cx="389.0" cy="1164.3" r="3.65"/>
<circle cx="387.9" cy="1163.1" r="3.65"/>
<circle cx="389.5" cy="1159.8" r="3.65"/>
<circle cx="389.5" cy="1161.5" r="3.65"/>
<circle cx="410.2" cy="1158.8" r="3.65"/>
<circle cx="451.3" cy="1161.7" r="3.65"/>
</g>
<polygon points="409.6,1153.5 410.2,1151.1 410.8,1153.5" fill="#07506A" fill-opacity="0.6"/>
<polygon points="450.8,1153.5 451.3,1151.1 451.9,1153.5" fill="#07506A" fill-opacity="0.6"/>
</g>
<g id="row16">
<polygon points="387.4,1226.8 387.7,1225.0 388.0,1221.9 388.4,1219.5 388.6,1218.0 388.8,1219.5 389.2,1221.9 389.5,1225.0 389.9,1226.8" fill="#053D65" fill-opacity="0.75"/>
<polygon points="387.5,1226.76 388.2,1220.76 389.5,1220.26 391,1223.26 394,1224.76 397.5,1225.96 398,1226.76" fill="#053D65" fill-opacity="0.75"/>
<g fill="#053D65" fill-opacity="0.3" stroke="#053D65" stroke-opacity="0.4" stroke-width="1.6">
<circle cx="389.6" cy="1235.0" r="3.65"/>
<circle cx="388.8" cy="1231.0" r="3.65"/>
<circle cx="390.5" cy="1235.6" r="3.65"/>
<circle cx="389.6" cy="1233.8" r="3.65"/>
<circle cx="390.7" cy="1234.1" r="3.65"/>
<circle cx="390.6" cy="1233.5" r="3.65"/>
<circle cx="390.1" cy="1231.1" r="3.65"/>
<circle cx="390.3" cy="1234.9" r="3.65"/>
<circle cx="388.0" cy="1235.5" r="3.65"/>
<circle cx="390.1" cy="1231.4" r="3.65"/>
<circle cx="391.1" cy="1232.9" r="3.65"/>
<circle cx="389.3" cy="1236.6" r="3.65"/>
<circle cx="391.2" cy="1233.2" r="3.65"/>
<circle cx="388.7" cy="1232.6" r="3.65"/>
<circle cx="390.4" cy="1232.8" r="3.65"/>
<circle cx="390.4" cy="1237.6" r="3.65"/>
<circle cx="391.3" cy="1234.7" r="3.65"/>
<circle cx="390.6" cy="1231.9" r="3.65"/>
<circle cx="389.6" cy="1233.4" r="3.65"/>
<circle cx="391.1" cy="1234.4" r="3.65"/>
<circle cx="390.2" cy="1235.8" r="3.65"/>
<circle cx="388.1" cy="1232.5" r="3.65"/>
<circle cx="389.7" cy="1231.6" r="3.65"/>
<circle cx="388.5" cy="1232.0" r="3.65"/>
<circle cx="388.5" cy="1233.7" r="3.65"/>
<circle cx="388.5" cy="1237.2" r="3.65"/>
<circle cx="390.5" cy="1237.8" r="3.65"/>
<circle cx="389.3" cy="1236.4" r="3.65"/>
<circle cx="388.9" cy="1237.3" r="3.65"/>
<circle cx="389.1" cy="1237.5" r="3.65"/>
<circle cx="390.9" cy="1231.7" r="3.65"/>
<circle cx="391.1" cy="1236.2" r="3.65"/>
<circle cx="388.3" cy="1235.2" r="3.65"/>
<circle cx="388.6" cy="1232.3" r="3.65"/>
<circle cx="390.5" cy="1235.9" r="3.65"/>
<circle cx="387.9" cy="1234.0" r="3.65"/>
<circle cx="388.8" cy="1234.3" r="3.65"/>
<circle cx="389.3" cy="1231.3" r="3.65"/>
<circle cx="388.5" cy="1236.9" r="3.65"/>
<circle cx="390.7" cy="1236.7" r="3.65"/>
<circle cx="390.0" cy="1236.1" r="3.65"/>
<circle cx="390.5" cy="1232.2" r="3.65"/>
<circle cx="390.0" cy="1235.3" r="3.65"/>
<circle cx="388.0" cy="1233.1" r="3.65"/>
<circle cx="388.3" cy="1237.0" r="3.65"/>
<circle cx="388.9" cy="1234.6" r="3.65"/>
<circle cx="392.5" cy="1231.0" r="3.65"/>
<circle cx="393.5" cy="1236.0" r="3.65"/>
<circle cx="394.0" cy="1233.0" r="3.65"/>
<circle cx="393.0" cy="1238.0" r="3.65"/>
<circle cx="394.2" cy="1236.5" r="3.65"/>
<circle cx="392.8" cy="1229.5" r="3.65"/>
<circle cx="397.0" cy="1237.5" r="3.65"/>
<circle cx="403.0" cy="1235.8" r="3.65"/>
<circle cx="465.5" cy="1231.0" r="3.65"/>
</g>
<polygon points="402.4,1226.5 403.0,1224.1 403.6,1226.5" fill="#053D65" fill-opacity="0.6"/>
<polygon points="464.9,1226.5 465.5,1224.1 466.1,1226.5" fill="#053D65" fill-opacity="0.6"/>
</g>
<g id="row17">
<polygon points="387.4,1299.7 387.7,1294.9 388.0,1286.4 388.4,1277.0 388.6,1275.5 388.8,1277.0 389.2,1286.4 389.5,1294.9 389.9,1299.7" fill="#012A5F" fill-opacity="0.75"/>
<polygon points="387.2,1300.22 387.6,1296.52 388.6,1294.72 390,1295.52 390.6,1300.22" fill="#012A5F" fill-opacity="0.55"/>
<g fill="#012A5F" fill-opacity="0.3" stroke="#012A5F" stroke-opacity="0.4" stroke-width="1.6">
<circle cx="390.2" cy="1309.2" r="3.65"/>
<circle cx="388.1" cy="1305.1" r="3.65"/>
<circle cx="388.9" cy="1305.7" r="3.65"/>
<circle cx="389.7" cy="1307.1" r="3.65"/>
<circle cx="390.0" cy="1305.3" r="3.65"/>
<circle cx="388.3" cy="1304.5" r="3.65"/>
<circle cx="389.7" cy="1310.7" r="3.65"/>
<circle cx="389.4" cy="1310.4" r="3.65"/>
<circle cx="388.5" cy="1310.6" r="3.65"/>
<circle cx="388.0" cy="1310.0" r="3.65"/>
<circle cx="387.7" cy="1306.8" r="3.65"/>
<circle cx="388.1" cy="1309.4" r="3.65"/>
<circle cx="388.5" cy="1305.0" r="3.65"/>
<circle cx="388.3" cy="1307.4" r="3.65"/>
<circle cx="388.5" cy="1309.7" r="3.65"/>
<circle cx="387.8" cy="1305.4" r="3.65"/>
<circle cx="389.9" cy="1308.2" r="3.65"/>
<circle cx="388.8" cy="1309.5" r="3.65"/>
<circle cx="388.5" cy="1310.1" r="3.65"/>
<circle cx="390.3" cy="1306.2" r="3.65"/>
<circle cx="389.4" cy="1308.0" r="3.65"/>
<circle cx="390.3" cy="1306.5" r="3.65"/>
<circle cx="389.9" cy="1306.0" r="3.65"/>
<circle cx="388.4" cy="1306.6" r="3.65"/>
<circle cx="388.4" cy="1304.4" r="3.65"/>
<circle cx="388.8" cy="1310.3" r="3.65"/>
<circle cx="389.4" cy="1308.8" r="3.65"/>
<circle cx="388.3" cy="1309.1" r="3.65"/>
<circle cx="390.4" cy="1307.7" r="3.65"/>
<circle cx="387.6" cy="1307.2" r="3.65"/>
<circle cx="390.0" cy="1304.7" r="3.65"/>
<circle cx="387.7" cy="1305.9" r="3.65"/>
<circle cx="388.2" cy="1306.3" r="3.65"/>
<circle cx="388.5" cy="1304.2" r="3.65"/>
<circle cx="388.6" cy="1304.8" r="3.65"/>
<circle cx="390.0" cy="1308.6" r="3.65"/>
<circle cx="390.0" cy="1307.5" r="3.65"/>
<circle cx="388.3" cy="1303.9" r="3.65"/>
<circle cx="387.6" cy="1306.9" r="3.65"/>
<circle cx="390.0" cy="1305.6" r="3.65"/>
<circle cx="389.2" cy="1308.9" r="3.65"/>
<circle cx="389.2" cy="1307.8" r="3.65"/>
<circle cx="389.4" cy="1309.8" r="3.65"/>
<circle cx="389.2" cy="1304.1" r="3.65"/>
<circle cx="389.5" cy="1308.3" r="3.65"/>
<circle cx="387.7" cy="1308.5" r="3.65"/>
<circle cx="407.7" cy="1307.5" r="3.65"/>
<circle cx="418.5" cy="1306.7" r="3.65"/>
</g>
<polygon points="407.1,1299.4 407.7,1297.0 408.2,1299.4" fill="#012A5F" fill-opacity="0.6"/>
<polygon points="417.9,1299.4 418.5,1297.0 419.1,1299.4" fill="#012A5F" fill-opacity="0.6"/>
</g>
<g id="row18">
<polygon points="387.0,1372.7 387.4,1365.0 387.9,1351.7 388.4,1336.0 388.6,1334.5 388.8,1336.0 389.3,1351.7 389.8,1365.0 390.2,1372.7" fill="#24135F" fill-opacity="0.75"/>
<polygon points="390,1372.98 392.5,1371.68 394.2,1371.0800000000002 395.4,1372.98" fill="#24135F" fill-opacity="0.8"/>
<g fill="#24135F" fill-opacity="0.3" stroke="#24135F" stroke-opacity="0.4" stroke-width="1.6">
<circle cx="387.8" cy="1381.4" r="3.65"/>
<circle cx="389.1" cy="1383.1" r="3.65"/>
<circle cx="387.9" cy="1378.4" r="3.65"/>
<circle cx="389.2" cy="1381.3" r="3.65"/>
<circle cx="389.5" cy="1378.8" r="3.65"/>
<circle cx="387.9" cy="1379.4" r="3.65"/>
<circle cx="389.4" cy="1379.3" r="3.65"/>
<circle cx="389.6" cy="1379.1" r="3.65"/>
<circle cx="388.3" cy="1377.0" r="3.65"/>
<circle cx="389.6" cy="1380.7" r="3.65"/>
<circle cx="388.5" cy="1381.0" r="3.65"/>
<circle cx="389.0" cy="1382.6" r="3.65"/>
<circle cx="389.5" cy="1378.7" r="3.65"/>
<circle cx="389.6" cy="1381.1" r="3.65"/>
<circle cx="388.6" cy="1381.7" r="3.65"/>
<circle cx="389.2" cy="1380.8" r="3.65"/>
<circle cx="389.5" cy="1378.5" r="3.65"/>
<circle cx="388.6" cy="1379.0" r="3.65"/>
<circle cx="389.0" cy="1382.3" r="3.65"/>
<circle cx="388.1" cy="1377.9" r="3.65"/>
<circle cx="388.9" cy="1377.5" r="3.65"/>
<circle cx="389.2" cy="1379.6" r="3.65"/>
<circle cx="389.4" cy="1382.5" r="3.65"/>
<circle cx="389.1" cy="1383.7" r="3.65"/>
<circle cx="388.3" cy="1382.0" r="3.65"/>
<circle cx="388.5" cy="1383.5" r="3.65"/>
<circle cx="389.5" cy="1382.2" r="3.65"/>
<circle cx="388.2" cy="1377.2" r="3.65"/>
<circle cx="388.8" cy="1377.8" r="3.65"/>
<circle cx="389.2" cy="1381.6" r="3.65"/>
<circle cx="389.1" cy="1380.1" r="3.65"/>
<circle cx="388.2" cy="1376.9" r="3.65"/>
<circle cx="389.3" cy="1380.2" r="3.65"/>
<circle cx="389.2" cy="1381.9" r="3.65"/>
<circle cx="388.4" cy="1378.1" r="3.65"/>
<circle cx="387.8" cy="1379.9" r="3.65"/>
<circle cx="388.9" cy="1383.4" r="3.65"/>
<circle cx="389.2" cy="1377.3" r="3.65"/>
<circle cx="389.0" cy="1380.5" r="3.65"/>
<circle cx="388.2" cy="1379.8" r="3.65"/>
<circle cx="388.5" cy="1378.2" r="3.65"/>
<circle cx="388.1" cy="1380.4" r="3.65"/>
<circle cx="388.5" cy="1383.2" r="3.65"/>
<circle cx="389.4" cy="1377.6" r="3.65"/>
<circle cx="388.0" cy="1382.9" r="3.65"/>
<circle cx="388.7" cy="1382.8" r="3.65"/>
<circle cx="394.8" cy="1382.2" r="3.65"/>
<circle cx="409.7" cy="1380.3" r="3.65"/>
<circle cx="850.6" cy="1382.2" r="3.65"/>
</g>
<polygon points="408.2,1372.9 409.7,1371.0 411.2,1372.9" fill="#24135F" fill-opacity="0.8"/>
<polygon points="849.1,1372.9 850.6,1371.0 852.1,1372.9" fill="#24135F" fill-opacity="0.8"/>
</g>
<line x1="372.7" x2="372.7" y1="1424.05" y2="14.67" stroke="#333" stroke-opacity="0.95" stroke-width="2.85" stroke-dasharray="11.38 11.38"/>
<g font-size="25.6" letter-spacing="0.55" fill="#4D4D4D" text-anchor="end">
<text x="311.4" y="76.30">WLS (default)</text>
<text x="311.4" y="149.26">WILS (default)</text>
<text x="311.4" y="222.22">WAAPWLS (default)</text>
<text x="311.4" y="295.18">trimfill (default)</text>
<text x="311.4" y="368.14">SM (4PSM)</text>
<text x="311.4" y="441.10">SM (3PSM)</text>
<text x="311.4" y="514.06">RoBMA (PSMA)</text>
<text x="311.4" y="587.02">RMA (default)</text>
<text x="311.4" y="659.98">puniform (star)</text>
<text x="311.4" y="732.94">puniform (default)</text>
<text x="311.4" y="805.90">PETPEESE (default)</text>
<text x="311.4" y="878.86">PET (default)</text>
<text x="311.4" y="951.82">PEESE (default)</text>
<text x="311.4" y="1024.78">pcurve (default)</text>
<text x="311.4" y="1097.74">mean (default)</text>
<text x="311.4" y="1170.70">FMA (default)</text>
<text x="311.4" y="1243.66">EK (default)</text>
<text x="311.4" y="1316.62">AK (AK2)</text>
<text x="311.4" y="1389.58">AK (AK1)</text>
</g>
<g font-size="25.6" letter-spacing="0.55" fill="#4D4D4D" text-anchor="end">
<text transform="translate(386.30,1451.00) rotate(-45)">0.0</text>
<text transform="translate(579.20,1451.00) rotate(-45)">0.1</text>
<text transform="translate(772.10,1451.00) rotate(-45)">0.2</text>
<text transform="translate(965.00,1451.00) rotate(-45)">0.3</text>
<text transform="translate(1157.90,1451.00) rotate(-45)">0.4</text>
<text transform="translate(1350.80,1451.00) rotate(-45)">0.5</text>
</g>
<text x="855" y="1514.2" font-size="32" fill="#000" text-anchor="middle">Empirical SE</text>
</svg></body></html>
